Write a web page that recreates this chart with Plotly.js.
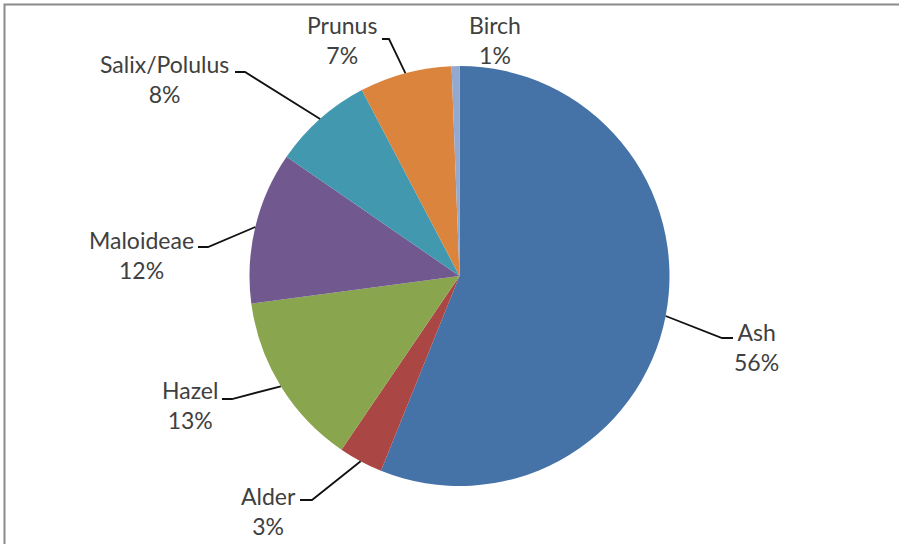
<!DOCTYPE html>
<html>
<head>
<meta charset="utf-8">
<script src="https://cdn.plot.ly/plotly-3.0.1.min.js"></script>
<style>html,body{margin:0;padding:0;background:#fff;}#chart{width:899px;height:544px;}</style>
</head>
<body>
<div id="chart"></div>
<script>
// ---- data ----
const categories = ["Ash", "Alder", "Hazel", "Maloideae", "Salix/Polulus", "Prunus", "Birch"];
const shares = [56.1, 3.4, 13.4, 11.7, 7.7, 7.1, 0.6];
const colors = ["#4572A7", "#AA4643", "#89A54E", "#71588F", "#4198AF", "#DB843D", "#93A9CF"];

// ---- layout constants (pixels) ----
const W = 899, H = 544;
const cx = 459.5, cy = 276, R = 210;
// label block centres and leader elbow points (null = no leader)
const labelPos = [[756, 347], [268, 511], [190, 405], [141, 255], [164, 79], [342, 40], [495, 40]];
const elbowPos = [[722, 338], [312, 500], [232, 399], [208, 247], [245, 72], [389, 39], null];
const elbowLen = [11, -12, -10, -10, -10, -7, 0];

const px = x => x / W;
const py = y => 1 - y / H;

const total = shares.reduce((a, b) => a + b, 0);
const annotations = [];
const shapes = [];
let cum = 0;
shares.forEach((v, i) => {
  const theta = 2 * Math.PI * (cum + v / 2) / total;
  cum += v;
  const sx = cx + R * Math.sin(theta), sy = cy - R * Math.cos(theta);
  const pct = Math.round(100 * v / total);
  annotations.push({
    x: px(labelPos[i][0]), y: py(labelPos[i][1]), xref: 'paper', yref: 'paper',
    xanchor: 'center', yanchor: 'middle', showarrow: false, align: 'center',
    text: categories[i] + '<br>' + pct + '%',
    font: {family: 'Lato, "Open Sans", sans-serif', size: 23, color: '#404040'}
  });
  if (elbowPos[i]) {
    const [ex, ey] = elbowPos[i];
    shapes.push({
      type: 'path', xref: 'paper', yref: 'paper',
      path: `M ${px(sx)} ${py(sy)} L ${px(ex)} ${py(ey)} L ${px(ex + elbowLen[i])} ${py(ey)}`,
      line: {color: '#111111', width: 1.8}
    });
  }
});
// chart-area frame (top and left edges visible)
shapes.push({
  type: 'path', xref: 'paper', yref: 'paper',
  path: `M ${px(4.5)} ${py(560)} L ${px(4.5)} ${py(4.5)} L ${px(920)} ${py(4.5)}`,
  line: {color: '#8a8a8a', width: 2}
});

const trace = {
  type: 'pie',
  labels: categories,
  values: shares,
  sort: false,
  direction: 'clockwise',
  rotation: 0,
  textinfo: 'none',
  hoverinfo: 'none',
  marker: {colors: colors, line: {width: 0}},
  domain: {x: [(cx - R) / W, (cx + R) / W], y: [1 - (cy + R) / H, 1 - (cy - R) / H]},
  showlegend: false
};

const layout = {
  width: W, height: H,
  margin: {l: 0, r: 0, t: 0, b: 0, pad: 0},
  paper_bgcolor: '#ffffff',
  plot_bgcolor: '#ffffff',
  showlegend: false,
  annotations: annotations,
  shapes: shapes
};

Plotly.newPlot('chart', [trace], layout, {staticPlot: true, displayModeBar: false});
</script>
</body>
</html>
